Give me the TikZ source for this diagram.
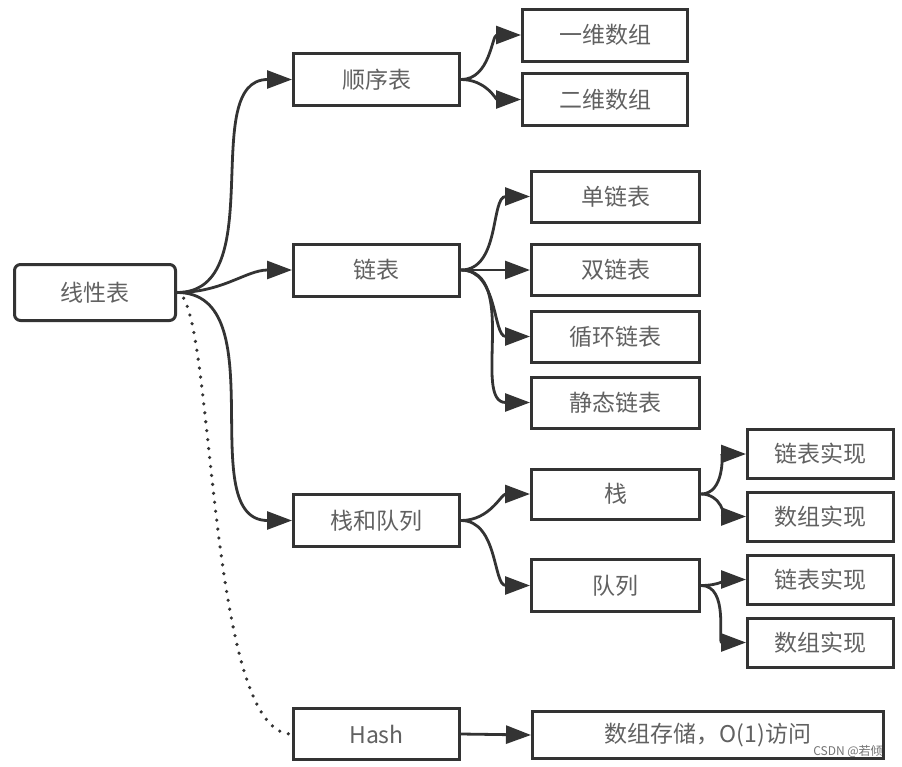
\documentclass[tikz,border=0pt]{standalone}
\usepackage{fontspec}
\newfontfamily\cjk{Noto Sans CJK SC}
\usetikzlibrary{arrows.meta}

\begin{document}
\begin{tikzpicture}[x=1pt,y=-1pt,
    box/.style={draw=black!80, line width=3pt, minimum width=166pt, minimum height=52pt,
                inner sep=0pt, text=black!62, font=\cjk\fontsize{23}{26}\selectfont},
    leaf/.style={box, minimum width=146pt, minimum height=49pt},
    link/.style={draw=black!80, line width=2.8pt, -{Triangle[length=25pt,width=18pt]}}
  ]
            \useasboundingbox (0,0) rectangle (902,766);

            % root and first level
            \node[box, rounded corners=6pt, minimum width=161pt, minimum height=56pt] (lin) at (95,292.5) {线性表};
            \node[box] (seq) at (376.5,79.5) {顺序表};
            \node[box] (lnk) at (376.5,270) {链表};
            \node[box] (sq) at (376.5,520.5) {栈和队列};
            \node[box, minimum height=51pt] (hsh) at (376.5,734) {Hash};

            % second level
            \node[box, minimum width=165pt] (arr1) at (605,35) {一维数组};
            \node[box, minimum width=165pt] (arr2) at (605,99.5) {二维数组};
            \node[box, minimum width=168pt, minimum height=51pt] (sgl) at (615.5,196.5) {单链表};
            \node[box, minimum width=168pt, minimum height=51pt] (dbl) at (615.5,270) {双链表};
            \node[box, minimum width=168pt, minimum height=51pt] (cir) at (615.5,336.5) {循环链表};
            \node[box, minimum width=168pt, minimum height=51pt] (sta) at (615.5,402.5) {静态链表};
            \node[box, minimum width=168pt, minimum height=50pt] (stk) at (615.5,494) {栈};
            \node[box, minimum width=168pt, minimum height=52pt] (que) at (615.5,585.5) {队列};
            \node[box, minimum width=351pt, minimum height=47pt] (hval) at (708,735) {数组存储，O(1)访问};

            % third level
            \node[leaf] (stkl) at (820.5,454) {链表实现};
            \node[leaf] (stka) at (820.5,516.5) {数组实现};
            \node[leaf] (quel) at (820.5,579.5) {链表实现};
            \node[leaf] (quea) at (820.5,642.5) {数组实现};

            \node[text=black!55, font=\cjk\fontsize{12}{14}\selectfont] (wm) at (848,751) {CSDN @若倾};

            \draw[link] (lin.east) to[out=0,in=180] (seq.west);
            \draw[link] (lin.east) to[out=0,in=180] (lnk.west);
            \draw[link] (lin.east) to[out=0,in=180] (sq.west);
            \draw[draw=black!80, line width=3.6pt, line cap=round, dash pattern=on 0pt off 9pt]
                (lin.east) .. controls (215,296) and (205,736) .. (hsh.west);

            \draw[link] (seq.east) to[out=0,in=180] (arr1.west);
            \draw[link] (seq.east) to[out=0,in=180] (arr2.west);

            \draw[link] (lnk.east) to[out=0,in=180] (sgl.west);
            \draw[link] (lnk.east) to[out=0,in=180] (dbl.west);
            \draw[link] (lnk.east) to[out=0,in=180] (cir.west);
            \draw[link] (lnk.east) to[out=0,in=180] (sta.west);

            \draw[link] (sq.east) to[out=0,in=180] (stk.west);
            \draw[link] (sq.east) to[out=0,in=180] (que.west);

            \draw[link] (stk.east) to[out=0,in=180] (stkl.west);
            \draw[link] (stk.east) to[out=0,in=180] (stka.west);
            \draw[link] (que.east) to[out=0,in=180] (quel.west);
            \draw[link] (que.east) to[out=0,in=180] (quea.west);

            \draw[link] (hsh.east) -- (hval.west);
        \end{tikzpicture}
\end{document}
